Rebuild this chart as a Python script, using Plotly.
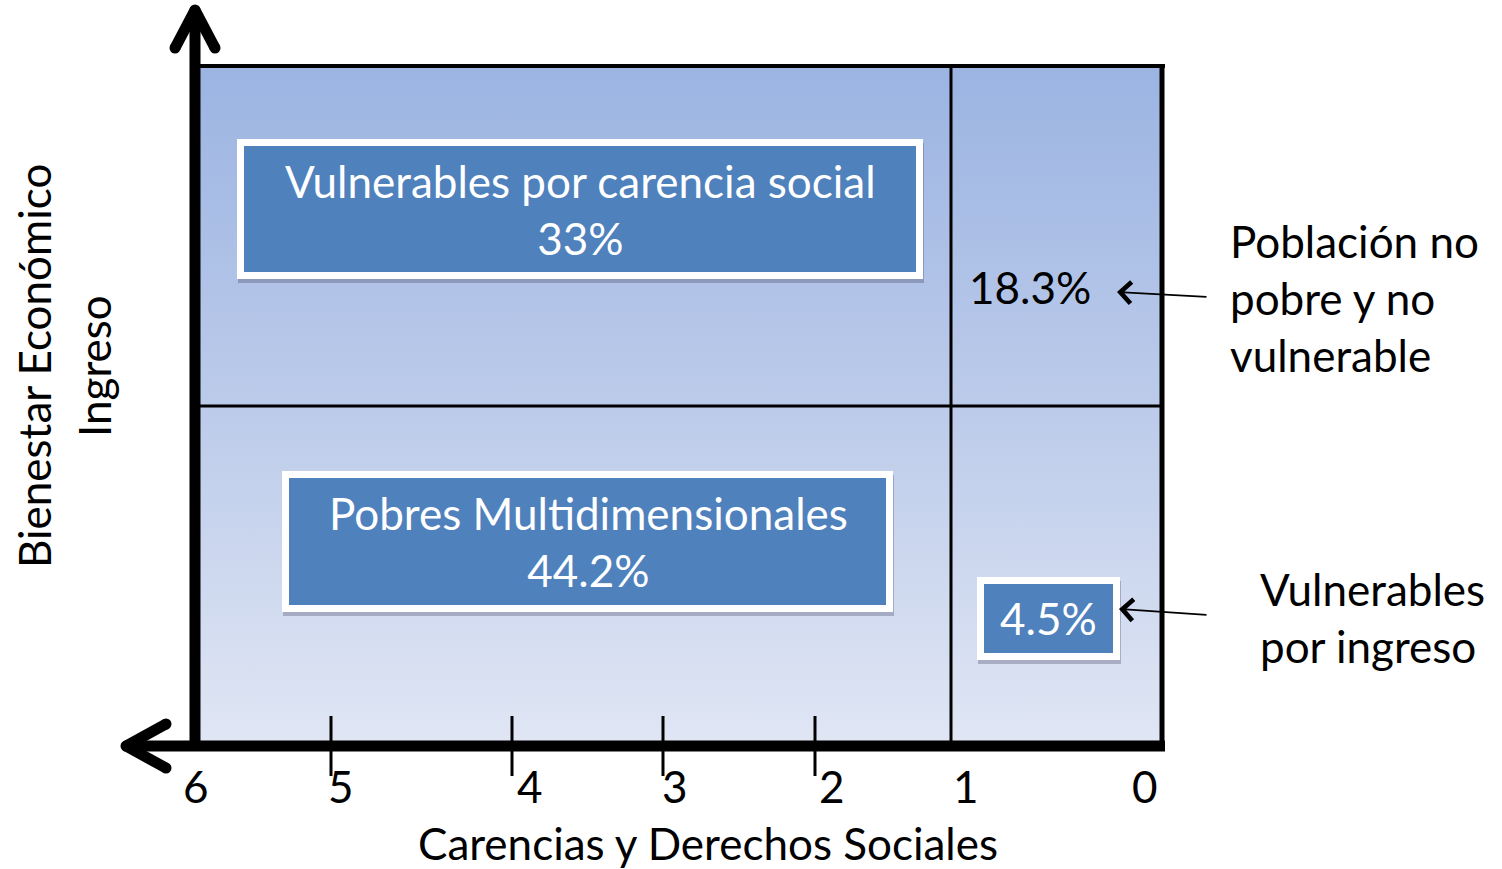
import plotly.graph_objects as go

# ---------------- data ----------------
categories = ["Vulnerables por carencia social", "Pobres Multidimensionales",
              "Población no pobre y no vulnerable", "Vulnerables por ingreso"]
values = [33, 44.2, 18.3, 4.5]
tick_labels = ["6", "5", "4", "3", "2", "1", "0"]
x_title = "Carencias y Derechos Sociales"
y_titles = ["Bienestar Económico", "Ingreso"]

# ---------------- layout (pixel geometry) ----------------
W, H = 1502, 869
FONT = "Lato"
FS = 44
BLUE = "#4f81bd"

panel = dict(x0=197, x1=1162, y0=66, y1=745)
split_x, split_y = 951, 406

boxes = [  # outer white frame for labelled boxes (cat 0, 1, 3)
    dict(x0=237, x1=923, y0=139, y1=279),
    dict(x0=282, x1=893, y0=471, y1=612),
    None,
    dict(x0=977, x1=1120, y0=577, y1=660),
]
tick_px = [196, 331, 512, 663, 815, 951, 1162]
tick_lbl_px = [196, 341, 530, 675, 832, 966, 1145]

fig = go.Figure()

# gradient panel
fig.add_trace(go.Scatter(
    x=[panel["x0"], panel["x1"], panel["x1"], panel["x0"], panel["x0"]],
    y=[panel["y0"], panel["y0"], panel["y1"], panel["y1"], panel["y0"]],
    fill="toself", mode="lines", line=dict(width=0),
    fillgradient=dict(type="vertical", start=panel["y0"], stop=panel["y1"],
                      colorscale=[[0, "#9bb4e2"], [0.5, "#bccbea"], [1, "#e0e6f4"]]),
    hoverinfo="skip", showlegend=False))

shapes = []
# grid / border lines
shapes.append(dict(type="line", x0=193, x1=1165, y0=66, y1=66, line=dict(color="black", width=4)))
shapes.append(dict(type="line", x0=1162, x1=1162, y0=64, y1=749, line=dict(color="black", width=5)))
shapes.append(dict(type="line", x0=197, x1=1162, y0=split_y, y1=split_y, line=dict(color="black", width=3)))
shapes.append(dict(type="line", x0=split_x, x1=split_x, y0=66, y1=745, line=dict(color="black", width=3)))

# ticks
for tx in tick_px[1:5]:
    shapes.append(dict(type="line", x0=tx, x1=tx, y0=716, y1=776, line=dict(color="black", width=3)))

# boxes with shadow
for b in boxes:
    if b is None:
        continue
    shapes.append(dict(type="rect", x0=b["x0"] + 1, x1=b["x1"] + 1, y0=b["y0"] + 4, y1=b["y1"] + 4,
                       fillcolor="rgba(60,60,90,0.3)", line=dict(width=0), layer="above"))
    shapes.append(dict(type="rect", x0=b["x0"], x1=b["x1"], y0=b["y0"], y1=b["y1"],
                       fillcolor="white", line=dict(width=0), layer="above"))
    shapes.append(dict(type="rect", x0=b["x0"] + 7, x1=b["x1"] - 7, y0=b["y0"] + 7, y1=b["y1"] - 7,
                       fillcolor=BLUE, line=dict(width=0), layer="above"))

# axes (thick lines with chevrons)
axis_line = dict(color="black", width=11)
fig.add_trace(go.Scatter(x=[195, 195], y=[751, 12], mode="lines", line=axis_line,
                         hoverinfo="skip", showlegend=False))
fig.add_trace(go.Scatter(x=[175, 195, 215], y=[48, 10, 48], mode="lines+markers", line=axis_line,
                         marker=dict(size=11, color="black"), hoverinfo="skip", showlegend=False))
fig.add_trace(go.Scatter(x=[1165, 128], y=[746, 746], mode="lines", line=axis_line,
                         hoverinfo="skip", showlegend=False))
fig.add_trace(go.Scatter(x=[166, 126, 166], y=[724, 746, 768], mode="lines+markers", line=axis_line,
                         marker=dict(size=11, color="black"), hoverinfo="skip", showlegend=False))

ann = []
txt_font = dict(family=FONT, size=FS, color="black")
wfont = dict(family=FONT, size=FS, color="white")

def pct(v):
    return f"{v:g}%"

# box texts
ann.append(dict(x=580, y=209, text=f"{categories[0]}<br>{pct(values[0])}", font=wfont))
ann.append(dict(x=588, y=541, text=f"{categories[1]}<br>{pct(values[1])}", font=wfont))
ann.append(dict(x=1048, y=618, text=pct(values[3]), font=wfont))
ann.append(dict(x=1030, y=287, text=pct(values[2]), font=txt_font))

# side labels
ann.append(dict(x=1228, y=298, text="Población no<br>pobre y no<br>vulnerable", font=txt_font,
                xanchor="left", align="left"))
ann.append(dict(x=1258, y=617, text="Vulnerables<br>por ingreso", font=txt_font,
                xanchor="left", align="left"))

# arrows
ann.append(dict(x=1117, y=292, ax=1208, ay=297, axref="x", ayref="y", text="", showarrow=True,
                arrowhead=4, arrowsize=2.3, arrowwidth=1.8, arrowcolor="black"))
ann.append(dict(x=1119, y=609, ax=1208, ay=615, axref="x", ayref="y", text="", showarrow=True,
                arrowhead=4, arrowsize=2.3, arrowwidth=1.8, arrowcolor="black"))

# tick labels
for lbl, px in zip(tick_labels, tick_lbl_px):
    ann.append(dict(x=px, y=786, text=lbl, font=txt_font))

# axis titles
ann.append(dict(x=708, y=843, text=x_title, font=txt_font))
ann.append(dict(x=34, y=366, text=y_titles[0], font=txt_font, textangle=-90))
ann.append(dict(x=94, y=366, text=y_titles[1], font=txt_font, textangle=-90))

for a in ann:
    a.setdefault("showarrow", False)
    a.setdefault("xanchor", "center")
    a.setdefault("yanchor", "middle")
    a["xref"] = "x"
    a["yref"] = "y"

fig.update_layout(
    width=W, height=H, margin=dict(l=0, r=0, t=0, b=0),
    paper_bgcolor="white", plot_bgcolor="white",
    xaxis=dict(range=[0, W], visible=False, fixedrange=True),
    yaxis=dict(range=[H, 0], visible=False, fixedrange=True),
    shapes=shapes, annotations=ann, showlegend=False,
)

fig.write_html("out.html", post_script="document.body.style.margin='0';",
               config={"displayModeBar": False})
